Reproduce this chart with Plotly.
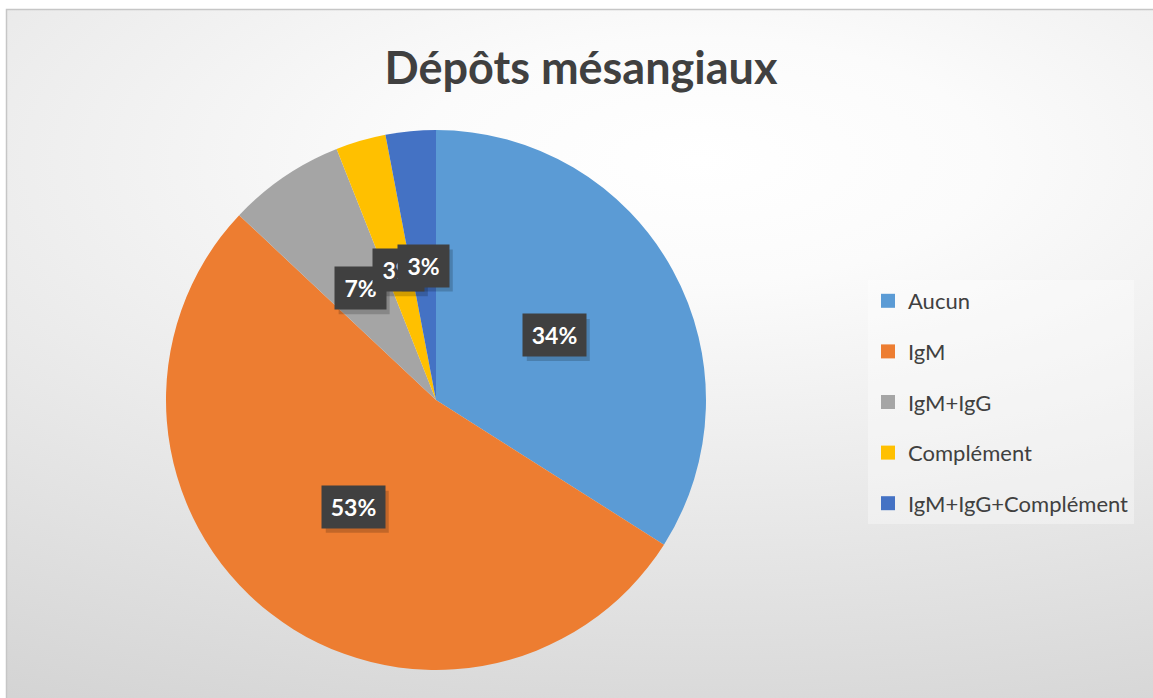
import math
import plotly.graph_objects as go

# ---- data ----
labels = ["Aucun", "IgM", "IgM+IgG", "Complément", "IgM+IgG+Complément"]
values = [34, 53, 7, 3, 3]
colors = ["#5B9BD5", "#ED7D31", "#A5A5A5", "#FFC000", "#4472C4"]
title_text = "Dépôts mésangiaux"

W, H = 1153, 698
CX, CY, R = 436, 400, 270  # pie centre/radius in px
FONT = "Lato, 'Open Sans', sans-serif"
TXT = "#404040"

fig = go.Figure()

# background radial gradient (pixel-coordinate axes)
gx, gy, gw, gh = 700, 160, 1440, 610
fig.add_trace(go.Scatter(
    x=[gx - gw, gx + gw, gx + gw, gx - gw, gx - gw],
    y=[gy - gh, gy - gh, gy + gh, gy + gh, gy - gh],
    mode="lines", line=dict(width=0), fill="toself",
    fillgradient=dict(type="radial",
                      colorscale=[[0, "#ffffff"], [0.2, "#fbfbfb"], [1, "#d4d4d4"]]),
    hoverinfo="skip", showlegend=False))

# pie
fig.add_trace(go.Pie(
    labels=labels, values=values, sort=False, direction="clockwise", rotation=0,
    marker=dict(colors=colors, line=dict(width=0)),
    textinfo="none", showlegend=False, hoverinfo="label+percent",
    domain=dict(x=[(CX - R) / W, (CX + R) / W], y=[1 - (CY + R) / H, 1 - (CY - R) / H])))

# legend entries
for lab, col in zip(labels, colors):
    fig.add_trace(go.Scatter(
        x=[None], y=[None], mode="markers", name=lab, legendgroup=lab,
        marker=dict(symbol="square", size=14, color=col), showlegend=True))

# percentage labels (boxes with drop shadow)
total = sum(values)
cum = 0
annotations = []
shapes = []
BH = 42
for v in values:
    mid = (cum + v / 2) / total * 2 * math.pi
    cum += v
    px = CX + 0.5 * R * math.sin(mid)
    py = CY - 0.5 * R * math.cos(mid)
    txt = f"{round(v / total * 100)}%"
    BW = 63 if len(txt) > 2 else 51
    shapes.append(dict(type="rect", xref="x", yref="y",
                       x0=px - BW / 2 + 4, x1=px + BW / 2 + 4,
                       y0=py - BH / 2 + 5, y1=py + BH / 2 + 5,
                       line=dict(width=0), fillcolor="rgba(0,0,0,0.18)", layer="above"))
    annotations.append(dict(x=px, y=py, xref="x", yref="y", text=f"<b>{txt}</b>",
                            showarrow=False, bgcolor="#404040",
                            font=dict(size=23, color="white", family=FONT),
                            width=BW - 8, height=BH - 8, borderpad=4))

shapes.append(dict(type="rect", xref="paper", yref="paper",
                   x0=6.5 / W, x1=1 + 10 / W, y0=-10 / H, y1=1 - 9.5 / H,
                   line=dict(color="#c6c6c6", width=1.5), fillcolor="rgba(0,0,0,0)",
                   layer="above"))

fig.update_layout(
    width=W, height=H, margin=dict(l=0, r=0, t=0, b=0),
    paper_bgcolor="white", plot_bgcolor="rgba(0,0,0,0)",
    xaxis=dict(domain=[6 / W, 1], range=[6, W], visible=False, fixedrange=True),
    yaxis=dict(domain=[0, 1 - 9 / H], range=[H, 9], visible=False, fixedrange=True),
    title=dict(text=f"<b>{title_text}</b>", x=581 / W, xanchor="center",
               y=1 - 68 / H, yanchor="middle",
               font=dict(size=45, color=TXT, family=FONT)),
    legend=dict(x=868 / W, xanchor="left", y=1 - 280 / H, yanchor="top",
                bgcolor="rgba(255,255,255,0.35)", borderwidth=0,
                font=dict(size=22, color=TXT, family=FONT),
                tracegroupgap=19, itemclick=False, itemdoubleclick=False),
    annotations=annotations,
    shapes=shapes,
)

fig.write_html("out.html", config={"displayModeBar": False},
               post_script="document.body.style.margin='0';")
